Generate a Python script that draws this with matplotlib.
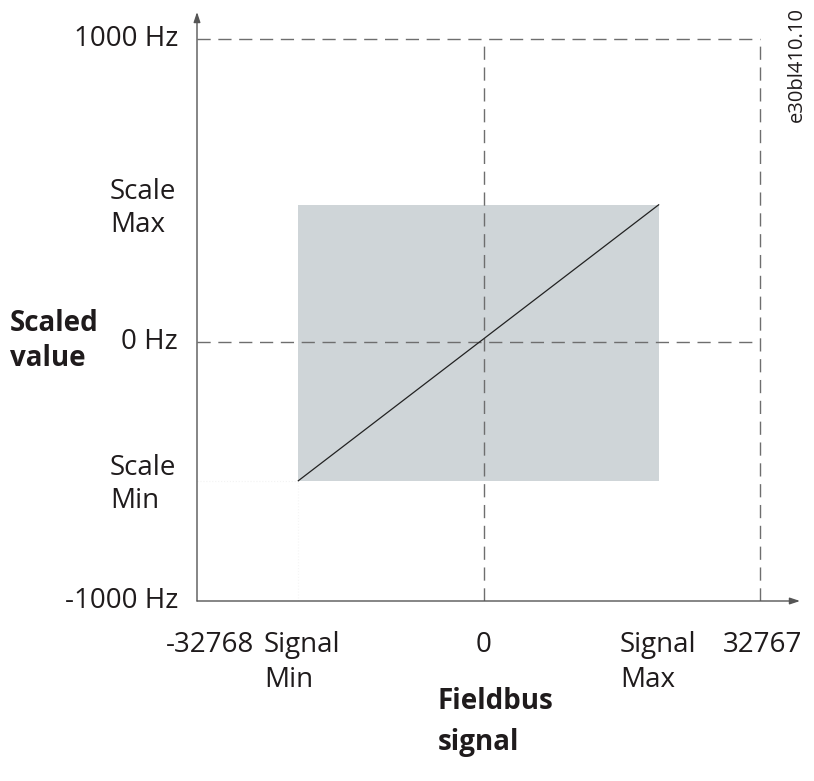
import matplotlib
matplotlib.use("Agg")
import matplotlib.pyplot as plt

# Schematic axis positions (0..100 along each axis)
x_tick_labels = ["-32768", "Signal\nMin", "0", "Signal\nMax", "32767"]
x_tick_pos = [0.0, 18.0, 51.0, 82.0, 100.0]
y_tick_labels = ["-1000 Hz", "Scale\nMin", "0 Hz", "Scale\nMax", "1000 Hz"]
y_tick_pos = [0.0, 21.4, 46.1, 70.5, 100.0]

# scaling line: from (Signal Min, Scale Min) to (Signal Max, Scale Max)
line_x = [x_tick_pos[1], x_tick_pos[3]]
line_y = [y_tick_pos[1], y_tick_pos[3]]

W, H = 814, 781
fig = plt.figure(figsize=(W / 100, H / 100), dpi=100)
fig.patch.set_facecolor("white")

x0, x1 = 197, 800
y0, y1 = 601, 12
ax = fig.add_axes([x0 / W, 1 - y0 / H, (x1 - x0) / W, (y0 - y1) / H])
xmax = (x1 - x0) / (760 - 197) * 100
ymax = (y0 - y1) / (601 - 39) * 100
ax.set_xlim(0, xmax)
ax.set_ylim(0, ymax)
ax.axis("off")

font = ["Open Sans", "DejaVu Sans"]
fs = 20
tc = "#1f1b1c"

# shaded region
ax.fill_between([x_tick_pos[1], x_tick_pos[3]], y_tick_pos[1], y_tick_pos[3],
                color="#cfd5d8", lw=0, zorder=1)

# very faint dotted helper lines
ax.plot([0, x_tick_pos[1]], [y_tick_pos[1]] * 2, color="#f3f3f3", lw=0.8, ls=":", zorder=1)
ax.plot([x_tick_pos[1]] * 2, [0, y_tick_pos[1]], color="#f5f5f5", lw=0.8, ls=":", zorder=1)

dash = dict(color="#6e6e6e", lw=1.0, dashes=(9.5, 5.5), zorder=2)
ax.plot([0, 100], [100, 100], **dash)
ax.plot([100, 100], [0, 100], **dash)
ax.plot([0, 100], [y_tick_pos[2]] * 2, **dash)
ax.plot([x_tick_pos[2]] * 2, [0, 100], **dash)

# diagonal
ax.plot(line_x, line_y, color="#222222", lw=0.9, zorder=3)

# axes with arrows
arrow = dict(arrowstyle="-|>,head_length=0.6,head_width=0.2", color="#555555", lw=1.0,
             shrinkA=0, shrinkB=0)
ax.annotate("", xy=(xmax, 0), xytext=(0, 0), arrowprops=arrow, zorder=4)
ax.annotate("", xy=(0, ymax), xytext=(0, 0), arrowprops=arrow, zorder=4)

px_x = 5.63  # pixels per axis unit (x)
px_y = 5.62  # pixels per axis unit (y)

# y tick labels
for lab, pos in zip(y_tick_labels, y_tick_pos):
    if "\n" in lab:
        ax.text(-(197 - 110) / px_x, pos - 3.5 / px_y, lab, ha="left", va="center",
                fontsize=fs, family=font, color=tc, linespacing=1.25)
    else:
        ax.text(-(197 - 178) / px_x, pos, lab, ha="right", va="center", fontsize=fs,
                family=font, color=tc)

# x tick labels
xt_y = -(631 - 601) / px_y
for lab, pos in zip(x_tick_labels, x_tick_pos):
    if "\n" in lab:
        px = 264 if "Min" in lab else 620
        ax.text((px - 197) / px_x, xt_y, lab, ha="left", va="top", fontsize=fs,
                family=font, color=tc, linespacing=1.35)
    else:
        cx = {"-32768": 210, "0": 484, "32767": 762}[lab]
        ax.text((cx - 197) / px_x, xt_y, lab, ha="center", va="top", fontsize=fs,
                family=font, color=tc)

# axis titles
fig.text(10 / W, 1 - 341 / H, "Scaled\nvalue", ha="left", va="center", fontsize=fs,
         family=font, weight="bold", color=tc, linespacing=1.25)
fig.text(438 / W, 1 - 722 / H, "Fieldbus\nsignal", ha="left", va="center", fontsize=fs,
         family=font, weight="bold", color=tc, linespacing=1.55)
fig.text(797 / W, 1 - 65 / H, "e30bl410.10", ha="center", va="center", rotation=90,
         fontsize=14.5, family=font, color=tc)

fig.savefig("out.png", dpi=100, facecolor="white")
